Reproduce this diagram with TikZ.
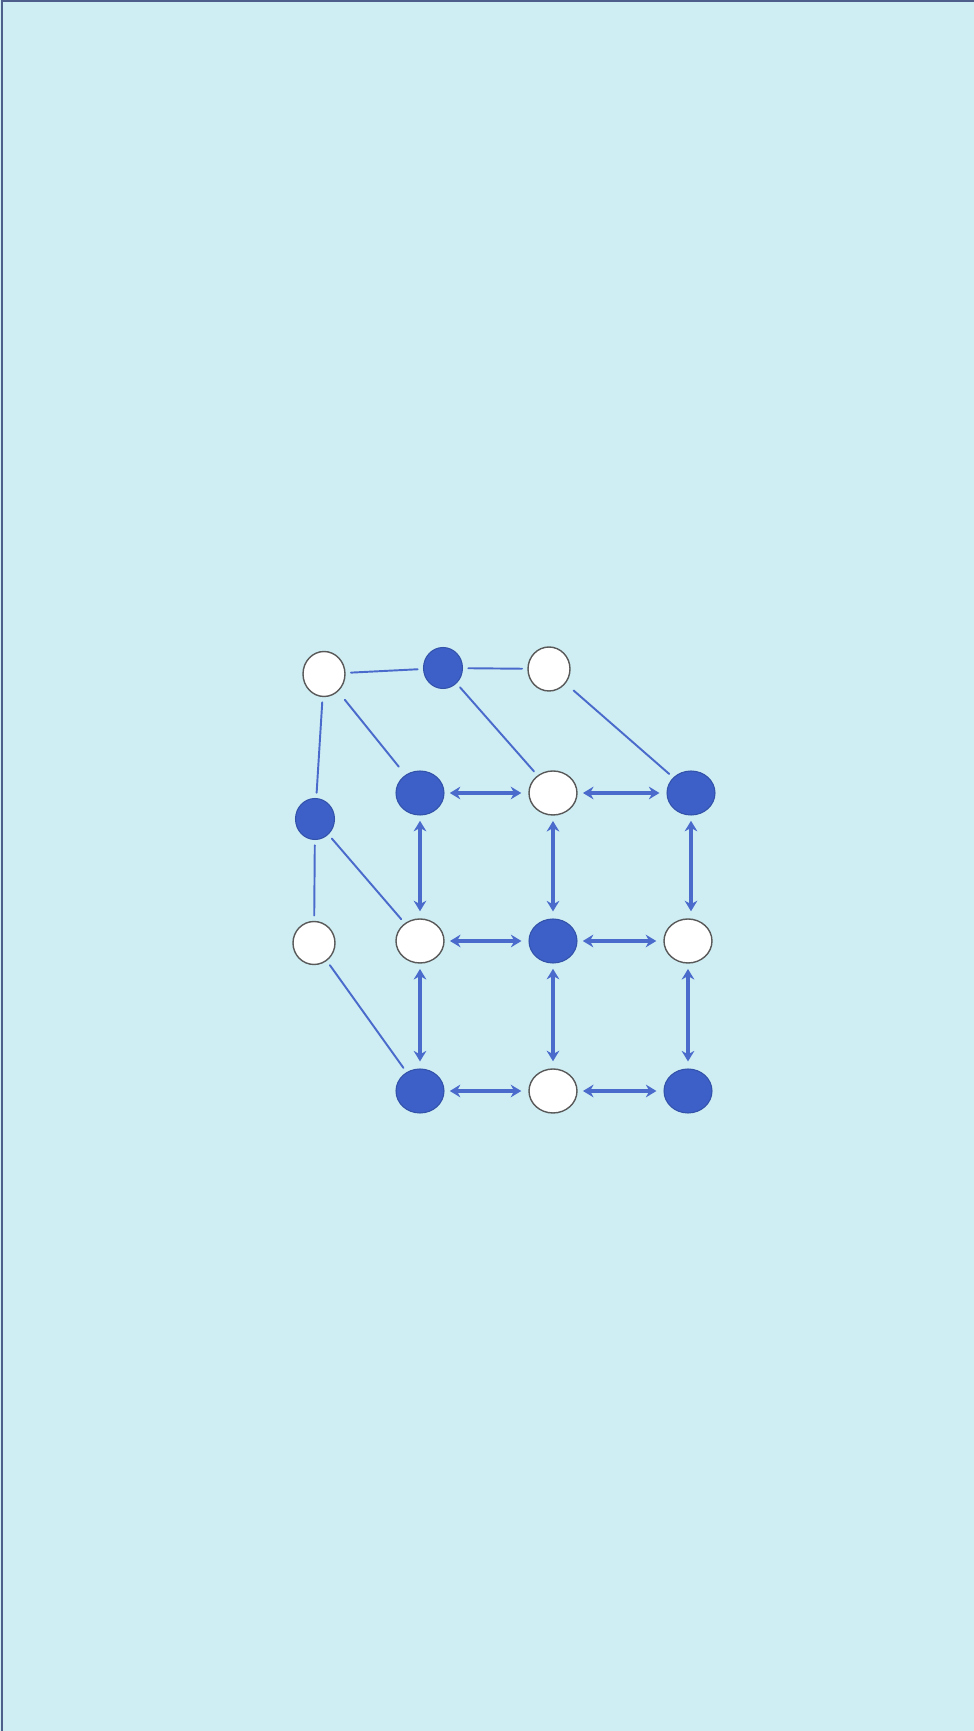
\documentclass[tikz,border=0pt]{standalone}
\usepackage{tikz}
\usetikzlibrary{arrows.meta,shapes.geometric}
\usepackage{xcolor}
\definecolor{sea}{HTML}{CFEEF3}
\definecolor{ionblue}{HTML}{3C60C8}
\definecolor{bondblue}{HTML}{4A6BCC}
\definecolor{frameline}{HTML}{4F5F8C}

\begin{document}
\begin{tikzpicture}[>={Stealth[length=3pt,width=3.6pt]},line cap=round,
  ion/.style={ellipse,inner sep=0pt,minimum width=0.48cm,minimum height=0.44cm},
  dark/.style={ion,fill=ionblue,draw=ionblue!85!black,line width=0.3pt},
  light/.style={ion,fill=white,draw=gray!70!black,line width=0.4pt},
  bond/.style={bondblue,line width=0.55pt,shorten <=1.5pt,shorten >=1.5pt},
  link/.style={<->,bondblue,line width=1.05pt,shorten <=1.5pt,shorten >=2pt}]
\fill[sea] (0,0) rectangle (9.74,17.31);
\useasboundingbox (0,0) rectangle (9.74,17.31);
\draw[frameline,line width=0.6pt] (0.02,0) -- (0.02,17.30) -- (9.74,17.30);
% back layer
\node[light,minimum width=0.42cm,minimum height=0.45cm] (ta) at (3.24,10.57) {};
\node[dark,minimum width=0.39cm,minimum height=0.41cm] (tb) at (4.43,10.63) {};
\node[light,minimum width=0.42cm,minimum height=0.44cm] (tc) at (5.49,10.62) {};
\node[dark,minimum width=0.39cm,minimum height=0.41cm] (la) at (3.15,9.12) {};
\node[light,minimum width=0.42cm,minimum height=0.43cm] (lb) at (3.14,7.88) {};
% front layer
\node[dark]  (f11) at (4.20,9.38) {};
\node[light] (f12) at (5.53,9.38) {};
\node[dark]  (f13) at (6.91,9.38) {};
\node[light] (f21) at (4.20,7.90) {};
\node[dark]  (f22) at (5.53,7.90) {};
\node[light] (f23) at (6.88,7.90) {};
\node[dark]  (f31) at (4.20,6.40) {};
\node[light] (f32) at (5.53,6.40) {};
\node[dark]  (f33) at (6.88,6.40) {};
% thin bonds
\draw[bond] (ta) -- (tb);
\draw[bond] (tb) -- (tc);
\draw[bond] (ta) -- (la);
\draw[bond] (la) -- (lb);
\draw[bond,shorten <=3pt,shorten >=3pt] (ta) -- (f11);
\draw[bond] (tb) -- (f12);
\draw[bond,shorten <=3pt] (tc) -- (f13);
\draw[bond] (la) -- (f21);
\draw[bond] (lb) -- (f31);
% double arrows
\draw[link] (f11) -- (f12);
\draw[link] (f12) -- (f13);
\draw[link] (f21) -- (f22);
\draw[link] (f22) -- (f23);
\draw[link] (f31) -- (f32);
\draw[link] (f32) -- (f33);
\draw[link] (f11) -- (f21);
\draw[link] (f21) -- (f31);
\draw[link] (f12) -- (f22);
\draw[link] (f22) -- (f32);
\draw[link] (f13.south) -- (f13.south |- f23.north);
\draw[link] (f23) -- (f33);
\end{tikzpicture}
\end{document}
